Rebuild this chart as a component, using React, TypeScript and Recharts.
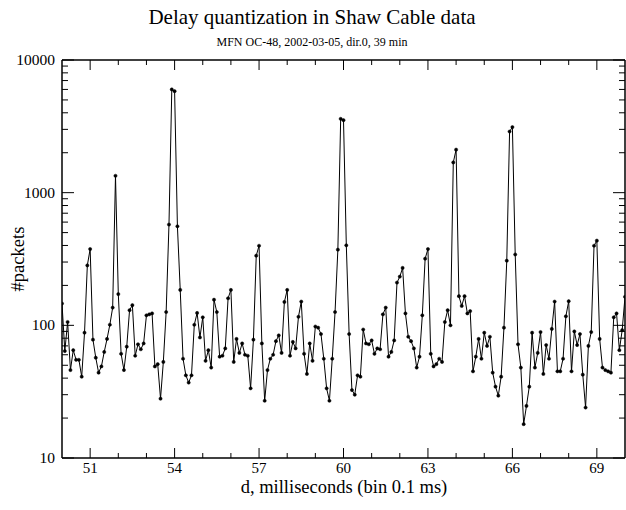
import { LineChart, Line, XAxis, YAxis } from 'recharts';

// histogram bins: 50.0 .. 70.0 ms, 0.1 ms wide
const BIN_START = 50;
const BIN_WIDTH = 0.1;

// #packets per bin
const packets = [
  146, 64, 106, 46, 65, 55, 55, 41, 88, 283,
  376, 78, 57, 44, 49, 63, 79, 101, 136, 1340,
  172, 61, 46, 69, 130, 142, 59, 72, 66, 73,
  119, 121, 123, 49, 51, 28, 53, 126, 575, 6000,
  5820, 558, 185, 56, 42, 37, 42, 101, 124, 81,
  115, 54, 65, 48, 156, 126, 58, 59, 67, 160,
  185, 53, 79, 62, 73, 60, 59, 33.5, 78, 335,
  398, 73, 27, 46, 56, 60, 76, 84, 62, 150,
  185, 59, 75, 67, 116, 151, 61, 43, 73, 54,
  98, 96, 86, 56, 33.5, 27, 56, 126, 372, 3600,
  3520, 401, 86, 32.5, 30, 42, 41, 93, 73, 72,
  77, 61, 67, 66, 121, 136, 58, 63, 77, 210,
  233, 271, 123, 82, 76, 67, 48, 58, 119, 318,
  376, 61, 49, 51, 56, 53, 106, 130, 100, 1690,
  2110, 166, 140, 166, 123, 128, 45, 58, 79, 56,
  88, 70, 82, 44, 34.5, 29.5, 41, 96, 307, 2890,
  3120, 342, 72, 48, 18, 24.7, 34.5, 88, 48, 62,
  89, 43, 71, 56, 94, 151, 45, 45, 56, 117,
  152, 45, 90, 71, 86, 42.5, 24, 70, 89, 398,
  435, 79, 48, 46, 45, 44, 115, 123, 65, 92,
  164,
];

const xTicks = [51, 52, 53, 54, 55, 56, 57, 58, 59, 60, 61, 62, 63, 64, 65, 66, 67, 68, 69];
const xLabelled = [51, 54, 57, 60, 63, 66, 69];
const yTicks = [
  10, 20, 30, 40, 50, 60, 70, 80, 90,
  100, 200, 300, 400, 500, 600, 700, 800, 900,
  1000, 2000, 3000, 4000, 5000, 6000, 7000, 8000, 9000,
  10000,
];
const yLabelled = [10, 100, 1000, 10000];

const data = packets.map((n, i) => ({ d: +(BIN_START + i * BIN_WIDTH).toFixed(1), n }));

const FONT = '"Liberation Serif", "DejaVu Serif", serif';

function BottomTick(props: any) {
  const { x, y, payload } = props;
  const major = xLabelled.includes(payload.value);
  return (
    <g>
      <line x1={x} y1={y} x2={x} y2={y - (major ? 10 : 5)} stroke="#000" strokeWidth={1} />
      {major && (
        <text x={x} y={y + 15} textAnchor="middle" fontSize={15} fontFamily={FONT} fill="#000">
          {payload.value}
        </text>
      )}
    </g>
  );
}

function TopTick(props: any) {
  const { x, y, payload } = props;
  const major = xLabelled.includes(payload.value);
  return <line x1={x} y1={y} x2={x} y2={y + (major ? 10 : 5)} stroke="#000" strokeWidth={1} />;
}

function LeftTick(props: any) {
  const { x, y, payload } = props;
  const major = yLabelled.includes(payload.value);
  return (
    <g>
      <line x1={x} y1={y} x2={x + (major ? 12 : 6)} y2={y} stroke="#000" strokeWidth={1} />
      {major && (
        <text x={x - 7} y={y + 5} textAnchor="end" fontSize={15.5} fontFamily={FONT} fill="#000">
          {payload.value}
        </text>
      )}
    </g>
  );
}

function RightTick(props: any) {
  const { x, y, payload } = props;
  const major = yLabelled.includes(payload.value);
  return <line x1={x} y1={y} x2={x - (major ? 12 : 6)} y2={y} stroke="#000" strokeWidth={1} />;
}

export default function App() {
  return (
    <div style={{ position: 'absolute', left: 0, top: 0, width: 626, height: 510, background: '#fff', fontFamily: FONT }}>
      <div style={{ position: 'absolute', left: 0, top: 5, width: 624, textAlign: 'center', fontSize: 21, lineHeight: '24px' }}>
        Delay quantization in Shaw Cable data
      </div>
      <div style={{ position: 'absolute', left: 0, top: 34, width: 624, textAlign: 'center', fontSize: 12, lineHeight: '16px' }}>
        MFN OC-48, 2002-03-05, dir.0, 39 min
      </div>
      <LineChart width={626} height={510} data={data} margin={{ top: 59, right: 0, bottom: 51, left: 0 }}>
        <XAxis
          dataKey="d"
          type="number"
          domain={[50, 70]}
          ticks={xTicks}
          interval={0}
          height={1}
          tickSize={0}
          tickMargin={0}
          tickLine={false}
          tick={<BottomTick />}
          axisLine={{ stroke: '#000', strokeWidth: 1.5 }}
          allowDataOverflow
        />
        <XAxis
          xAxisId="top"
          orientation="top"
          dataKey="d"
          type="number"
          domain={[50, 70]}
          ticks={xTicks}
          interval={0}
          height={1}
          tickSize={0}
          tickMargin={0}
          tickLine={false}
          tick={<TopTick />}
          axisLine={{ stroke: '#000', strokeWidth: 1.5 }}
          allowDataOverflow
        />
        <YAxis
          scale="log"
          domain={[10, 10000]}
          ticks={yTicks}
          interval={0}
          width={62}
          tickSize={0}
          tickMargin={0}
          tickLine={false}
          tick={<LeftTick />}
          axisLine={{ stroke: '#000', strokeWidth: 1.5 }}
          allowDataOverflow
        />
        <YAxis
          yAxisId="right"
          orientation="right"
          scale="log"
          domain={[10, 10000]}
          ticks={yTicks}
          interval={0}
          width={1}
          tickSize={0}
          tickMargin={0}
          tickLine={false}
          tick={<RightTick />}
          axisLine={{ stroke: '#000', strokeWidth: 1.5 }}
          allowDataOverflow
        />
        <Line
          type="linear"
          dataKey="n"
          stroke="#000"
          strokeWidth={1}
          dot={{ r: 1.6, fill: '#000', stroke: '#000', strokeWidth: 0.5 }}
          isAnimationActive={false}
        />
      </LineChart>
      <div style={{ position: 'absolute', left: 62, top: 476, width: 564, textAlign: 'center', fontSize: 18.5, lineHeight: '22px' }}>
        d, milliseconds (bin 0.1 ms)
      </div>
      <div
        style={{
          position: 'absolute',
          left: -82,
          top: 248,
          width: 200,
          height: 22,
          textAlign: 'center',
          fontSize: 18.5,
          lineHeight: '22px',
          transform: 'rotate(-90deg)',
        }}
      >
        #packets
      </div>
    </div>
  );
}
